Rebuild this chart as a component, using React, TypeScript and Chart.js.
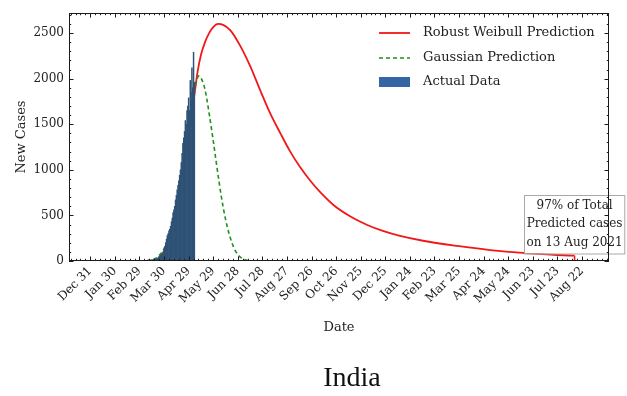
import React, { useEffect, useRef } from "react";
import { Chart, registerables } from "chart.js";

Chart.register(...registerables);

// ---- tick data (days since 31 Dec 2019) ----
const X_TICK_DAYS = [0, 30, 60, 90, 120, 150, 180, 210, 240, 270, 300, 330, 360, 390, 420, 450, 480, 510, 540, 570, 600];
const X_TICK_LABELS = [
  "Dec 31", "Jan 30", "Feb 29", "Mar 30", "Apr 29", "May 29", "Jun 28", "Jul 28", "Aug 27", "Sep 26", "Oct 26",
  "Nov 25", "Dec 25", "Jan 24", "Feb 23", "Mar 25", "Apr 24", "May 24", "Jun 23", "Jul 23", "Aug 22",
];
const Y_TICKS = [0, 500, 1000, 1500, 2000, 2500];

// ---- actual daily new cases ----
const ACTUAL_DAYS = [
  60, 61, 62, 63, 64, 65, 66, 67, 68, 69, 70, 71, 72, 73, 74, 75, 76, 77, 78, 79,
  80, 81, 82, 83, 84, 85, 86, 87, 88, 89, 90, 91, 92, 93, 94, 95, 96, 97, 98, 99,
  100, 101, 102, 103, 104, 105, 106, 107, 108, 109, 110, 111, 112, 113, 114, 115, 116, 117, 118, 119,
  120, 121, 122, 123, 124, 125, 126, 127,
];
const ACTUAL_CASES = [
  0, 0, 1, 2, 0, 2, 3, 5, 4, 6, 8, 10, 8, 12, 10, 14, 12, 16, 15, 18,
  20, 25, 30, 40, 50, 55, 65, 75, 70, 90, 130, 160, 200, 240, 280, 300, 330, 350, 380, 430,
  470, 530, 560, 600, 670, 720, 780, 830, 880, 940, 1000, 1080, 1180, 1290, 1350, 1420, 1540, 1500, 1650, 1700,
  1790, 1650, 1980, 1850, 2120, 1900, 2290, 1960,
];

// ---- Robust Weibull prediction ----
const WEIBULL_DAYS = [
  60, 79, 85, 92, 98, 104, 110, 116, 122, 127, 131, 135, 140, 145, 150, 156, 162, 171, 183, 195,
  207, 220, 232, 244, 256, 268, 280, 296, 317, 338, 357, 378, 406, 448, 488, 528, 570, 591,
];
const WEIBULL_CASES = [
  0, 0, 40, 150, 320, 560, 840, 1160, 1500, 1820, 2080, 2260, 2400, 2500, 2565, 2600, 2590, 2530, 2360, 2140,
  1880, 1610, 1400, 1200, 1030, 885, 760, 620, 490, 395, 330, 275, 222, 165, 120, 88, 66, 58,
];

// ---- Gaussian prediction ----
const GAUSS_DAYS = [
  60, 70, 80, 85, 90, 95, 100, 105, 110, 115, 120, 125, 130, 132, 135, 140, 145, 150, 155, 160,
  165, 170, 175, 180, 185, 190, 200,
];
const GAUSS_CASES = [
  0, 5, 30, 70, 135, 250, 420, 640, 900, 1200, 1500, 1780, 1980, 2030, 2010, 1880, 1620, 1320, 1000, 700,
  460, 280, 150, 70, 30, 10, 0,
];

// ---- 97% marker ----
const MARK_DAYS = [591, 591];
const MARK_CASES = [0, 58];
const ANNOT_LINES = ["97% of Total", "Predicted cases", "on 13 Aug 2021"];
const ANNOT_DAY = 591;
const ANNOT_CASES = 405;

const LEGEND_ITEMS = ["Robust Weibull Prediction", "Gaussian Prediction", "Actual Data"];

const RED = "#f01818";
const GREEN = "#1f8f1f";
const BAR = "#2e5276";
const BAR_LEGEND = "#3465a4";
const FONT = "DejaVu Serif";
const INK = "#222";

const toXY = (xs: number[], ys: number[]) => xs.map((x, i) => ({ x, y: ys[i] }));

const decorPlugin = {
  id: "decor",
  afterDatasetsDraw(chart: any) {
    const { ctx, chartArea, scales } = chart;
    const { right, top } = chartArea;
    ctx.save();
    // legend
    const rows = [20, 45, 69];
    const x0 = right - 230;
    const x1 = right - 199;
    const tx = right - 186;
    ctx.font = `13px "${FONT}"`;
    ctx.textBaseline = "middle";
    ctx.fillStyle = INK;
    LEGEND_ITEMS.forEach((label, i) => {
      const yy = top + rows[i];
      if (i === 0) {
        ctx.strokeStyle = RED;
        ctx.lineWidth = 1.8;
        ctx.setLineDash([]);
        ctx.beginPath();
        ctx.moveTo(x0, yy);
        ctx.lineTo(x1, yy);
        ctx.stroke();
      } else if (i === 1) {
        ctx.strokeStyle = GREEN;
        ctx.lineWidth = 1.6;
        ctx.setLineDash([4, 3]);
        ctx.beginPath();
        ctx.moveTo(x0, yy);
        ctx.lineTo(x1, yy);
        ctx.stroke();
        ctx.setLineDash([]);
      } else {
        ctx.fillStyle = BAR_LEGEND;
        ctx.fillRect(x0, yy - 5, x1 - x0, 10);
      }
      ctx.fillStyle = INK;
      ctx.textAlign = "left";
      ctx.fillText(label, tx, yy);
    });

    // annotation box
    const cx = scales.x.getPixelForValue(ANNOT_DAY);
    const cy = scales.y.getPixelForValue(ANNOT_CASES);
    ctx.font = `12px "${FONT}"`;
    const lh = 18.5;
    let w = 0;
    ANNOT_LINES.forEach((t) => (w = Math.max(w, ctx.measureText(t).width)));
    const bw = w + 4;
    const bh = lh * ANNOT_LINES.length + 3;
    ctx.fillStyle = "#ffffff";
    ctx.fillRect(cx - bw / 2, cy - bh / 2, bw, bh);
    ctx.strokeStyle = "#a8a8a8";
    ctx.lineWidth = 1;
    ctx.strokeRect(Math.round(cx - bw / 2) + 0.5, Math.round(cy - bh / 2) + 0.5, bw, bh);
    ctx.fillStyle = INK;
    ctx.textAlign = "center";
    ANNOT_LINES.forEach((t, i) => {
      ctx.fillText(t, cx, cy + (i - 1) * lh);
    });
    ctx.restore();
  },
  afterDraw(chart: any) {
    const { ctx, chartArea, scales } = chart;
    const { left, right, top, bottom } = chartArea;
    const xs = scales.x;
    const ys = scales.y;
    ctx.save();
    ctx.strokeStyle = "#1a1a1a";
    ctx.lineWidth = 1;
    ctx.strokeRect(Math.round(left) + 0.5, Math.round(top) + 0.5, Math.round(right - left) - 1, Math.round(bottom - top) - 1);
    const vline = (px: number, len: number) => {
      const p = Math.round(px) + 0.5;
      ctx.beginPath();
      ctx.moveTo(p, bottom);
      ctx.lineTo(p, bottom - len);
      ctx.moveTo(p, top);
      ctx.lineTo(p, top + len);
      ctx.stroke();
    };
    const hline = (py: number, len: number) => {
      const p = Math.round(py) + 0.5;
      ctx.beginPath();
      ctx.moveTo(left, p);
      ctx.lineTo(left + len, p);
      ctx.moveTo(right, p);
      ctx.lineTo(right - len, p);
      ctx.stroke();
    };
    const xStep = X_TICK_DAYS[1] - X_TICK_DAYS[0];
    for (let d = X_TICK_DAYS[0] - xStep; d <= xs.max; d += xStep / 5) {
      if (d < xs.min) continue;
      const major = X_TICK_DAYS.includes(Math.round(d));
      vline(xs.getPixelForValue(d), major ? 4.5 : 2.2);
    }
    const yStep = Y_TICKS[1] - Y_TICKS[0];
    for (let v = 0; v <= ys.max; v += yStep / 5) {
      const major = Y_TICKS.includes(Math.round(v));
      hline(ys.getPixelForValue(v), major ? 4.5 : 2.2);
    }
    ctx.restore();
  },
};

export default function App() {
  const ref = useRef<HTMLCanvasElement | null>(null);
  useEffect(() => {
    if (!ref.current) return;
    Chart.defaults.font.family = FONT;
    Chart.defaults.color = INK;
    const chart = new Chart(ref.current, {
      type: "bar",
      data: {
        datasets: [
          {
            type: "bar",
            label: "Actual Data",
            data: toXY(ACTUAL_DAYS, ACTUAL_CASES),
            backgroundColor: BAR,
            borderWidth: 0,
            barPercentage: 1,
            categoryPercentage: 1,
            order: 0,
          } as any,
          {
            type: "line",
            label: "Robust Weibull Prediction",
            data: toXY(WEIBULL_DAYS, WEIBULL_CASES),
            borderColor: RED,
            borderWidth: 1.8,
            pointRadius: 0,
            cubicInterpolationMode: "monotone",
            fill: false,
            order: 2,
          },
          {
            type: "line",
            label: "Gaussian Prediction",
            data: toXY(GAUSS_DAYS, GAUSS_CASES),
            borderColor: GREEN,
            borderWidth: 1.6,
            borderDash: [4, 3],
            pointRadius: 0,
            cubicInterpolationMode: "monotone",
            fill: false,
            order: 1,
          },
          {
            type: "line",
            label: "marker",
            data: toXY(MARK_DAYS, MARK_CASES),
            borderColor: RED,
            borderWidth: 1.5,
            pointRadius: 0,
            fill: false,
            order: 3,
          },
        ],
      },
      options: {
        responsive: false,
        animation: false,
        devicePixelRatio: 1,
        layout: { padding: { left: 8, top: 13, right: 18, bottom: 57 } },
        plugins: { legend: { display: false }, tooltip: { enabled: false }, title: { display: false } },
        scales: {
          x: {
            type: "linear",
            min: -26,
            max: 633,
            offset: false,
            grid: { display: false, drawTicks: false, offset: false },
            border: { display: false },
            afterBuildTicks: (axis: any) => {
              axis.ticks = X_TICK_DAYS.map((v) => ({ value: v }));
            },
            afterFit: (axis: any) => {
              axis.height = 78;
            },
            ticks: {
              autoSkip: false,
              minRotation: 45,
              maxRotation: 45,
              padding: 3,
              font: { size: 12, family: FONT },
              color: INK,
              callback: (_v: any, i: number) => X_TICK_LABELS[i],
            },
            title: { display: true, text: "Date", font: { size: 13, family: FONT }, color: INK, padding: { top: 0, bottom: 4 } },
          },
          y: {
            type: "linear",
            min: 0,
            max: 2720,
            grid: { display: false, drawTicks: false },
            border: { display: false },
            afterBuildTicks: (axis: any) => {
              axis.ticks = Y_TICKS.map((v) => ({ value: v }));
            },
            afterFit: (axis: any) => {
              axis.width = 61;
            },
            ticks: { padding: 5, font: { size: 12, family: FONT }, color: INK, callback: (v: any) => String(v) },
            title: { display: true, text: "New Cases", font: { size: 13, family: FONT }, color: INK, padding: { top: 6, bottom: 0 } },
          },
        },
      },
      plugins: [decorPlugin],
    });
    return () => chart.destroy();
  }, []);

  return (
    <div style={{ position: "absolute", left: 0, top: 0, width: 627, height: 396, background: "#fff" }}>
      <canvas ref={ref} width={627} height={396} style={{ position: "absolute", left: 0, top: 0, width: 627, height: 396 }} />
      <div
        style={{
          position: "absolute",
          left: 352,
          top: 362,
          transform: "translateX(-50%)",
          fontFamily: '"Liberation Serif", serif',
          fontSize: 28,
          lineHeight: "30px",
          color: "#111",
          whiteSpace: "nowrap",
        }}
      >
        India
      </div>
    </div>
  );
}
